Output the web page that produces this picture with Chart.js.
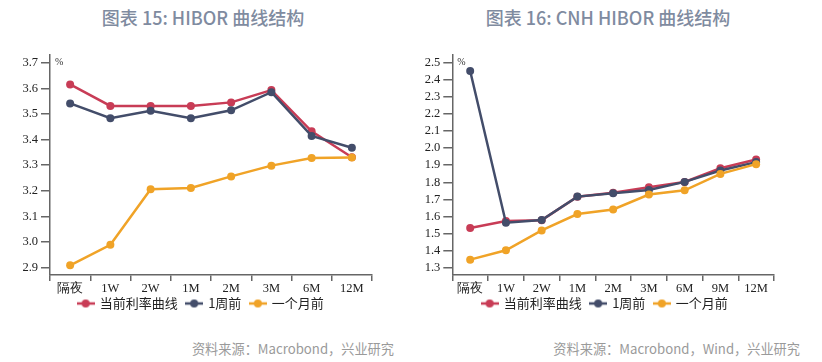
<!DOCTYPE html>
<html>
<head>
<meta charset="utf-8">
<script src="https://cdn.jsdelivr.net/npm/chart.js@4"></script>
<style>
  html, body { margin: 0; padding: 0; background: #fff; }
  body { width: 822px; height: 362px; position: relative; overflow: hidden; }
  .title { position: absolute; top: 4px; font-family: "Noto Sans CJK SC", "Noto Sans", sans-serif; font-weight: 500; font-size: 18px; color: #7f8ba0; white-space: nowrap; transform: translateX(-50%); line-height: 26px; }
  .src { position: absolute; top: 339px; font-family: "Noto Sans CJK SC", "Noto Sans", sans-serif; font-size: 13.2px; color: #9a9a9a; white-space: nowrap; line-height: 20px; }
  .box { position: absolute; top: 0; width: 411px; height: 337px; }
</style>
</head>
<body>
<div class="title" style="left:203px">图表 15: HIBOR 曲线结构</div>
<div class="title" style="left:608px">图表 16: CNH HIBOR 曲线结构</div>
<div class="box" style="left:0"><canvas id="c1"></canvas></div>
<div class="box" style="left:411px"><canvas id="c2"></canvas></div>
<div class="src" style="right:428px">资料来源：Macrobond，兴业研究</div>
<div class="src" style="right:22px">资料来源：Macrobond，Wind，兴业研究</div>
<script>
// ---- Data ----
const seriesNames = ['当前利率曲线', '1周前', '一个月前'];

const hiborCategories = ['隔夜', '1W', '2W', '1M', '2M', '3M', '6M', '12M'];
const hiborCurrent   = [3.615, 3.531, 3.531, 3.531, 3.545, 3.593, 3.432, 3.331];
const hiborWeekAgo   = [3.541, 3.483, 3.512, 3.483, 3.514, 3.585, 3.414, 3.368];
const hiborMonthAgo  = [2.909, 2.989, 3.206, 3.211, 3.256, 3.298, 3.328, 3.330];
const hiborTicks     = [2.9, 3.0, 3.1, 3.2, 3.3, 3.4, 3.5, 3.6, 3.7];

const cnhCategories = ['隔夜', '1W', '2W', '1M', '2M', '3M', '6M', '9M', '12M'];
const cnhCurrent   = [1.532, 1.573, 1.578, 1.715, 1.738, 1.771, 1.802, 1.882, 1.933];
const cnhWeekAgo   = [2.451, 1.563, 1.579, 1.716, 1.735, 1.755, 1.802, 1.869, 1.918];
const cnhMonthAgo  = [1.347, 1.402, 1.518, 1.614, 1.641, 1.728, 1.753, 1.849, 1.906];
const cnhTicks     = [1.3, 1.4, 1.5, 1.6, 1.7, 1.8, 1.9, 2.0, 2.1, 2.2, 2.3, 2.4, 2.5];

// ---- Style ----
const colors = ['#c83c56', '#434d6a', '#f0a327'];
const axisColor = '#666666';
const serif = '"Liberation Serif", "DejaVu Serif", serif';

function markerImage(color) {
  const c = document.createElement('canvas');
  c.width = 18; c.height = 10;
  const g = c.getContext('2d');
  g.strokeStyle = color; g.lineWidth = 2.5;
  g.beginPath(); g.moveTo(0, 5); g.lineTo(18, 5); g.stroke();
  g.fillStyle = color;
  g.beginPath(); g.arc(9, 5, 4, 0, Math.PI * 2); g.fill();
  return c;
}
const markers = colors.map(markerImage);

const pctPlugin = {
  id: 'pct',
  afterLayout(chart) {
    const s = chart.options.legendShift || 0;
    if (chart.legend) {
      chart.legend.left += s; chart.legend.right += s;
      chart.legend.top -= 11; chart.legend.bottom -= 11;
    }
  },
  afterDraw(chart) {
    const {ctx, chartArea} = chart;
    ctx.save();
    ctx.font = '10px ' + serif;
    ctx.fillStyle = '#333';
    ctx.textBaseline = 'middle';
    ctx.fillText('%', chartArea.left + 5, chartArea.top + 7);
    ctx.restore();
  }
};

function makeChart(id, cats, vals, ticks, yMin, yMax, yWidth, padRight, legendShift) {
  const datasets = vals.map((v, i) => ({
    label: seriesNames[i],
    data: v,
    borderColor: colors[i],
    backgroundColor: colors[i],
    borderWidth: 2.5,
    pointRadius: 4,
    pointHoverRadius: 4,
    pointBackgroundColor: colors[i],
    pointBorderWidth: 0,
    tension: 0,
    order: 3 - i
  }));
  return new Chart(document.getElementById(id), {
    type: 'line',
    data: { labels: cats, datasets },
    plugins: [pctPlugin],
    options: {
      legendShift,
      responsive: true,
      maintainAspectRatio: false,
      animation: false,
      layout: { padding: { top: 55, left: 0, right: padRight, bottom: 6 } },
      plugins: {
        tooltip: { enabled: false },
        legend: {
          position: 'bottom',
          labels: {
            usePointStyle: true,
            pointStyleWidth: 15,
            padding: 9,
            color: '#222',
            font: { family: '"Noto Sans CJK SC", sans-serif', size: 13 },
            generateLabels(chart) {
              return chart.data.datasets.map((d, i) => ({
                text: d.label,
                pointStyle: markers[i],
                fillStyle: colors[i],
                strokeStyle: colors[i],
                lineWidth: 0,
                datasetIndex: i,
                hidden: false,
                fontColor: '#222'
              }));
            }
          }
        }
      },
      scales: {
        x: {
          offset: true,
          border: { color: axisColor, width: 1.5 },
          grid: { drawOnChartArea: false, drawTicks: true, tickLength: 6, color: axisColor, lineWidth: 1.5, offset: true },
          ticks: { color: '#222', font: { family: serif, size: 12.5 }, padding: 0, maxRotation: 0, autoSkip: false },
          afterFit(s) { s.height = 24; }
        },
        y: {
          min: yMin, max: yMax,
          border: { color: axisColor, width: 1.5 },
          grid: { drawOnChartArea: false, drawTicks: true, tickLength: 9, color: axisColor, lineWidth: 1.5 },
          ticks: { color: '#222', font: { family: serif, size: 12.5 }, padding: 3, autoSkip: false, callback: v => Number(v).toFixed(1) },
          afterBuildTicks(s) { s.ticks = ticks.map(v => ({ value: v })); },
          afterFit(s) { s.width = yWidth; }
        }
      }
    }
  });
}

makeChart('c1', hiborCategories, [hiborCurrent, hiborWeekAgo, hiborMonthAgo], hiborTicks, 2.871, 3.73, 50, 39, 15);
makeChart('c2', cnhCategories, [cnhCurrent, cnhWeekAgo, cnhMonthAgo], cnhTicks, 1.257, 2.545, 41.3, 48, 12.5);
</script>
</body>
</html>
